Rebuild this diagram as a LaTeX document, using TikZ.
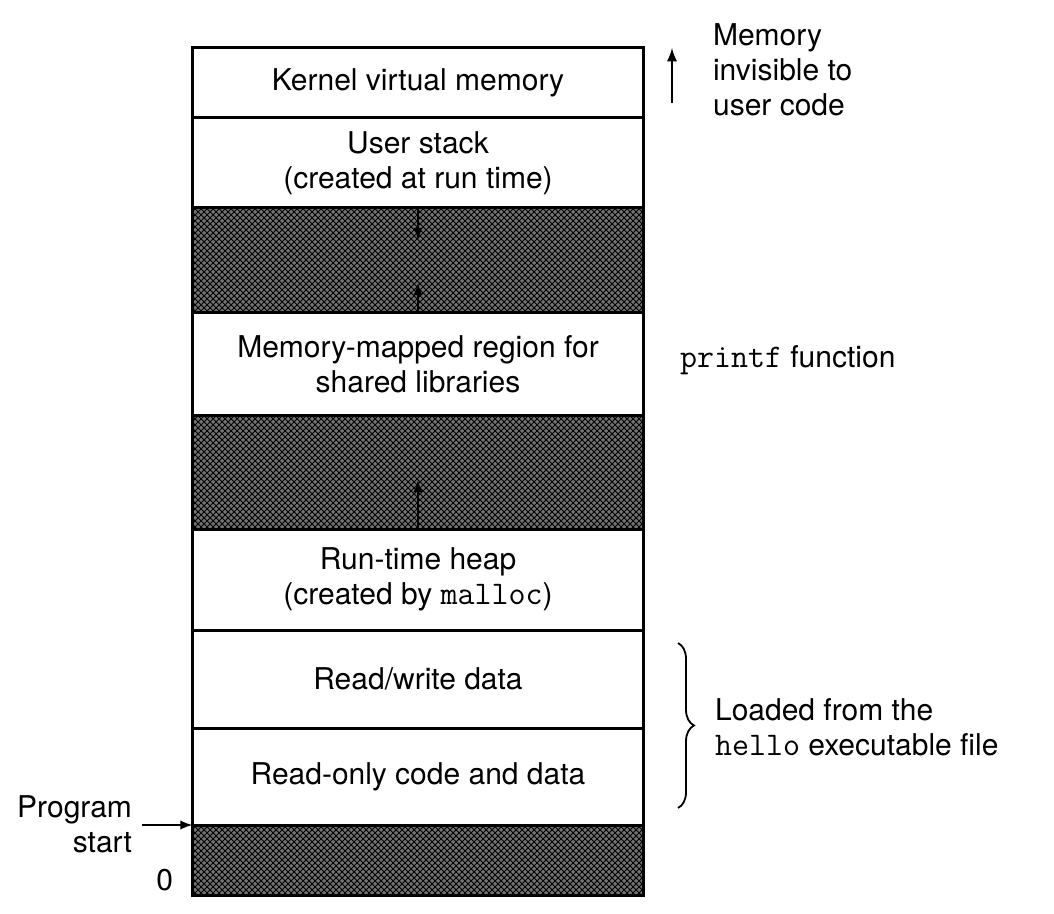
\documentclass[tikz,border=0pt]{standalone}
\usepackage{fontspec}
\setmainfont{TeX Gyre Heros}
\setmonofont[Scale=1.1]{Latin Modern Mono}
\usepackage{tikz}
\usetikzlibrary{positioning,patterns,decorations.pathreplacing}

\begin{document}
\begin{tikzpicture}[x=0.5pt,y=-0.5pt,
    txt/.style={font=\fontsize{15}{17.5}\selectfont},
    region/.style={txt, draw, line width=1.5pt, minimum width=225.5pt, inner sep=0pt, outer sep=0pt, align=center},
    gap/.style={region, preaction={fill=black!55}, pattern=crosshatch, pattern color=black},
    arr/.style={-latex, line width=1.1pt}]
    \useasboundingbox (0,0) rectangle (1054,914);

    % basics
    \node[region, anchor=north, minimum height=35pt] (kernel) at (418,48) {Kernel virtual memory};
    \node[region, minimum height=45pt, below=0pt of kernel] (ustack) {User stack\\(created at run time)};
    \node[gap, minimum height=52.5pt, below=0pt of ustack] (gapa) {};
    \node[region, minimum height=51pt, below=0pt of gapa] (mmap) {Memory-mapped region for\\shared libraries};
    \node[gap, minimum height=57pt, below=0pt of mmap] (gapb) {};
    \node[region, minimum height=50.5pt, below=0pt of gapb] (heap) {Run-time heap\\(created by \texttt{malloc})};
    \node[region, minimum height=49pt, below=0pt of heap] (rwdata) {Read/write data};
    \node[region, minimum height=48.5pt, below=0pt of rwdata] (rocode) {Read-only code and data};
    \node[gap, minimum height=35pt, below=0pt of rocode] (gapc) {};

    % growth arrows
    \coordinate (stacktip) at (418,240);
    \coordinate (mmaptip) at (418,283);
    \coordinate (heaptip) at (418,480);
    \draw[arr] (ustack.south) -- (stacktip);
    \draw[arr] (mmap.north) -- (mmaptip);
    \draw[arr] (heap.north) -- (heaptip);

    % text
    \node[txt, anchor=west, align=left] (invis) at (706,70) {Memory\\invisible to\\user code};
    \coordinate (upbase) at (672,103);
    \coordinate (uptip) at (672,48);
    \draw[arr, line width=1.3pt] (upbase) -- (uptip);
    \node[txt, anchor=west] (printf) at (673,360) {\texttt{printf} function};
    \draw[decorate, decoration={brace, amplitude=8pt}, line width=0.9pt] (678,643) -- (678,808);
    \node[txt, anchor=west, align=left] (loaded) at (708,727) {Loaded from the\\\texttt{hello} executable file};
    \node[txt, anchor=east, align=right] (start) at (139,824) {Program\\start};
    \draw[arr] (start.east |- rocode.south) ++(3,0) -- (rocode.south west);
    \node[txt, anchor=east] (zero) at (180,880) {0};
\end{tikzpicture}
\end{document}
